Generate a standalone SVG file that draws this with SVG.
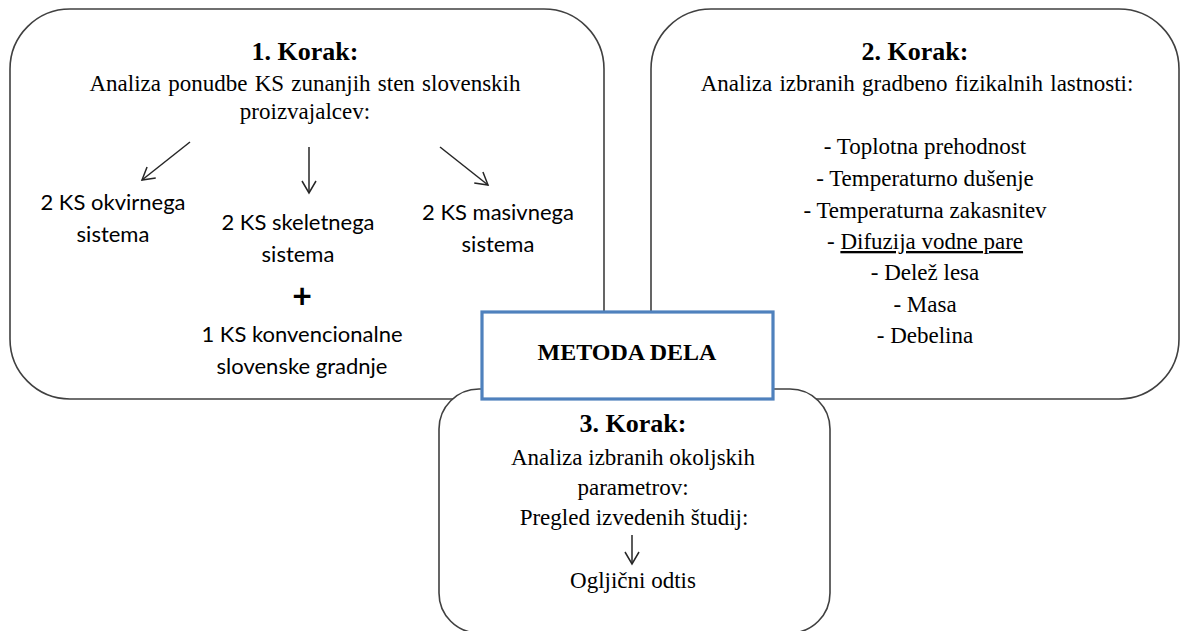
<svg xmlns="http://www.w3.org/2000/svg" width="1180" height="631" viewBox="0 0 1180 631">
  <style>
    .box { fill: #ffffff; stroke: #404040; stroke-width: 1.6; }
    .main { fill: #ffffff; stroke: #4f81bd; stroke-width: 3.2; }
    .ser { font-family: "Liberation Serif", "Times New Roman", serif; font-size: 23px; fill: #000; text-anchor: middle; }
    .hd { font-family: "Liberation Serif", "Times New Roman", serif; font-size: 26px; font-weight: bold; fill: #000; text-anchor: middle; }
    .san { font-family: Lato, "Liberation Sans", sans-serif; font-size: 22px; fill: #000; text-anchor: middle; }
    .arr { stroke: #262626; stroke-width: 1.5; fill: none; marker-end: url(#open); }
  </style>
  <defs>
    <marker id="open" markerUnits="userSpaceOnUse" markerWidth="16" markerHeight="16" viewBox="0 0 16 16" refX="14" refY="8" orient="auto">
      <path d="M2,1 L14,8 L2,15" fill="none" stroke="#262626" stroke-width="1.5"/>
    </marker>
  </defs>

  <g id="step1">
    <rect class="box" x="10" y="9" width="594" height="390" rx="60" ry="60"/>
    <text class="hd" x="305" y="60">1. Korak:</text>
    <text class="ser" x="305" y="91" style="word-spacing:1.5px">Analiza ponudbe KS zunanjih sten slovenskih</text>
    <text class="ser" x="305" y="119">proizvajalcev:</text>
    <text class="san" x="113" y="210">2 KS okvirnega</text>
    <text class="san" x="113" y="242">sistema</text>
    <text class="san" x="298" y="230">2 KS skeletnega</text>
    <text class="san" x="298" y="262">sistema</text>
    <text class="san" x="498" y="220">2 KS masivnega</text>
    <text class="san" x="498" y="252">sistema</text>
    <text class="san" x="302" y="308" style="font-size:34px;font-weight:bold">+</text>
    <text class="san" x="302" y="342">1 KS konvencionalne</text>
    <text class="san" x="302" y="374">slovenske gradnje</text>
  </g>

  <g id="step2">
    <rect class="box" x="651" y="9" width="528" height="390" rx="60" ry="60"/>
    <text class="hd" x="915" y="60">2. Korak:</text>
    <text class="ser" x="917" y="91" style="word-spacing:1.5px">Analiza izbranih gradbeno fizikalnih lastnosti:</text>
    <text class="ser" x="925" y="154">- Toplotna prehodnost</text>
    <text class="ser" x="925" y="186">- Temperaturno dušenje</text>
    <text class="ser" x="925" y="218">- Temperaturna zakasnitev</text>
    <text class="ser" x="925" y="249">- <tspan text-decoration="underline">Difuzija vodne pare</tspan></text>
    <text class="ser" x="925" y="280">- Delež lesa</text>
    <text class="ser" x="925" y="312">- Masa</text>
    <text class="ser" x="925" y="343">- Debelina</text>
  </g>

  <g id="step3">
    <rect class="box" x="439" y="389" width="391" height="244" rx="40" ry="40"/>
    <text class="hd" x="633" y="432">3. Korak:</text>
    <text class="ser" x="633" y="465">Analiza izbranih okoljskih</text>
    <text class="ser" x="633" y="495">parametrov:</text>
    <text class="ser" x="634" y="525">Pregled izvedenih študij:</text>
    <text class="ser" x="633" y="588">Ogljični odtis</text>
  </g>

  <g id="metoda">
    <rect class="main" x="482" y="312" width="291" height="87"/>
    <text class="hd" x="627" y="360" style="font-size:24px">METODA DELA</text>
  </g>

  <g id="connectors">
    <line class="arr" x1="190" y1="142" x2="142" y2="180"/>
    <line class="arr" x1="309" y1="147" x2="309" y2="193"/>
    <line class="arr" x1="440" y1="147" x2="488" y2="185"/>
    <line class="arr" x1="632" y1="535" x2="632" y2="564"/>
  </g>
</svg>
